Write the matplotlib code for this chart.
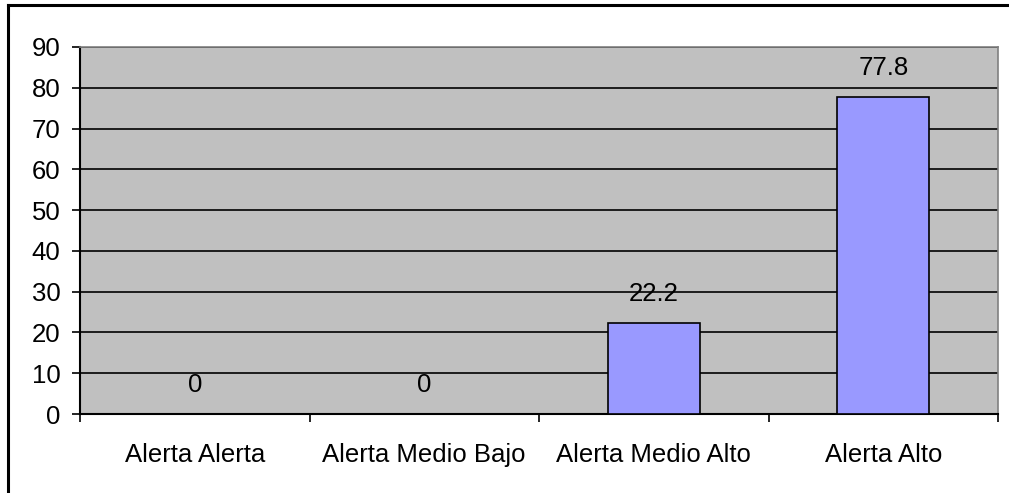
import matplotlib.pyplot as plt
from matplotlib.lines import Line2D
from matplotlib.ticker import FixedLocator, MultipleLocator

categories = ["Alerta Alerta", "Alerta Medio Bajo", "Alerta Medio Alto", "Alerta Alto"]
values = [0, 0, 22.2, 77.8]
value_labels = ["0", "0", "22.2", "77.8"]

plt.rcParams['font.family'] = ['Liberation Sans', 'DejaVu Sans']

W, H = 1009, 493
FS = 18.5
fig = plt.figure(figsize=(W / 100, H / 100), dpi=100)
ax = fig.add_axes([80 / W, 1 - 414 / H, (998 - 80) / W, (414 - 47) / H])

# outer frame: only left and top edges are inside the image
fig.add_artist(Line2D([8 / W, 8 / W], [0, 1 - 5 / H], transform=fig.transFigure,
                      color="black", linewidth=2.2))
fig.add_artist(Line2D([8 / W, 1], [1 - 5 / H, 1 - 5 / H], transform=fig.transFigure,
                      color="black", linewidth=2.2))

ax.set_facecolor("#C0C0C0")
x = range(len(categories))
ax.bar(x, values, width=0.4, color="#9999FF", edgecolor="black", linewidth=1.2, zorder=3)

for xi, v, lab in zip(x, values, value_labels):
    ax.annotate(lab, (xi, v), xytext=(0, 21), textcoords="offset points",
                ha="center", va="center", fontsize=FS)

ax.set_xlim(-0.5, len(categories) - 0.5)
ax.set_ylim(0, 90)
ax.yaxis.set_major_locator(MultipleLocator(10))
ax.grid(axis="y", color="black", linewidth=1.2, zorder=1)
ax.set_axisbelow(True)

ax.set_xticks(list(x))
ax.set_xticklabels(categories, fontsize=FS)
ax.tick_params(axis="x", length=0, pad=21)
ax.xaxis.set_minor_locator(FixedLocator([i - 0.5 for i in range(len(categories) + 1)]))
ax.tick_params(axis="x", which="minor", length=6, width=1.2, direction="out")
ax.tick_params(axis="y", labelsize=FS, length=6, width=1.2, direction="out", pad=8)

for side in ["top", "right"]:
    ax.spines[side].set_color("#808080")
    ax.spines[side].set_linewidth(1.2)
for side in ["left", "bottom"]:
    ax.spines[side].set_color("black")
    ax.spines[side].set_linewidth(1.5)

fig.savefig("out.png", dpi=100)
